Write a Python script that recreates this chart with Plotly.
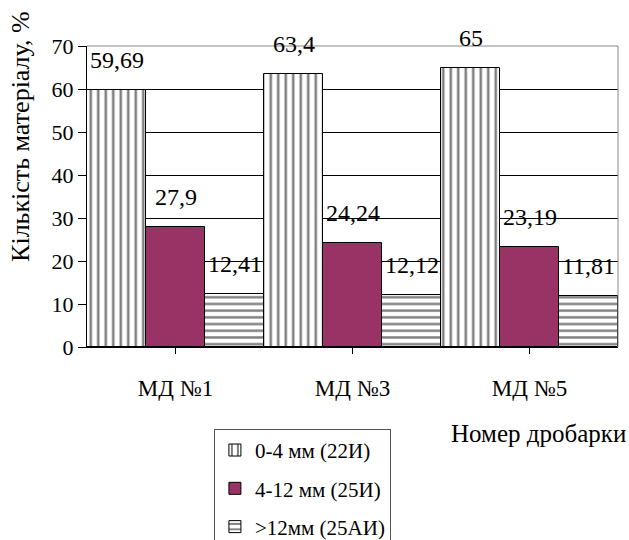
import plotly.graph_objects as go

# Crusher numbers (categories) and fraction shares, %
crushers = ["МД №1", "МД №3", "МД №5"]
series_names = ["0-4 мм (22И)", "4-12 мм (25И)", ">12мм (25АИ)"]
fine = [59.69, 63.4, 65]
medium = [27.9, 24.24, 23.19]
coarse = [12.41, 12.12, 11.81]
value_labels = [["59,69", "63,4", "65"], ["27,9", "24,24", "23,19"], ["12,41", "12,12", "11,81"]]
y_ticks = [0, 10, 20, 30, 40, 50, 60, 70]

FONT = "'Liberation Serif', 'Times New Roman', Times, 'DejaVu Serif', serif"
series = [fine, medium, coarse]
markers = [
    dict(color="white", line=dict(color="black", width=1),
         pattern=dict(shape="|", size=7.5, solidity=0.34, fgcolor="black", bgcolor="white")),
    dict(color="#993366", line=dict(color="black", width=1)),
    dict(color="white", line=dict(color="black", width=1),
         pattern=dict(shape="-", size=6.7, solidity=0.36, fgcolor="black", bgcolor="white")),
]

x_pos = list(range(len(crushers)))
fig = go.Figure()
for k, (name, vals, mk) in enumerate(zip(series_names, series, markers)):
    fig.add_trace(go.Bar(x=x_pos, y=vals, name=name, marker=mk, legendgroup=f"g{k}"))

# value labels above each bar
annotations = []
for j, (vals, labels) in enumerate(zip(series, value_labels)):
    for i, (v, t) in enumerate(zip(vals, labels)):
        annotations.append(dict(
            x=i + (j - 1) / 3, y=v, xref="x", yref="y", text=t, showarrow=False,
            yanchor="bottom", yshift=15, font=dict(family=FONT, size=24, color="black")))

annotations.append(dict(
    x=-0.125, y=0.70, xref="paper", yref="paper", text="Кількість матеріалу, %",
    textangle=-90, showarrow=False, xanchor="center", yanchor="middle",
    font=dict(family=FONT, size=26, color="black")))
annotations.append(dict(
    x=0.85, y=-0.289, xref="paper", yref="paper", text="Номер дробарки",
    showarrow=False, xanchor="center", yanchor="middle",
    font=dict(family=FONT, size=25, color="black")))

fig.update_layout(
    width=629, height=540,
    margin=dict(l=87, r=11, t=46, b=193, autoexpand=False),
    paper_bgcolor="white", plot_bgcolor="white",
    barmode="group", bargap=0, bargroupgap=0,
    font=dict(family=FONT, size=20, color="black"),
    showlegend=True,
    legend=dict(x=0.239, y=-0.272, xanchor="left", yanchor="top",
                bgcolor="white", bordercolor="#555555", borderwidth=1,
                font=dict(family=FONT, size=21, color="black"),
                traceorder="grouped", tracegroupgap=8, itemwidth=30),
    annotations=annotations,
    shapes=[
        dict(type="line", xref="paper", yref="paper", x0=0, x1=1, y0=1, y1=1,
             line=dict(color="#888888", width=1)),
        dict(type="line", xref="paper", yref="paper", x0=1, x1=1, y0=0, y1=1,
             line=dict(color="#888888", width=1)),
    ],
)
fig.update_xaxes(
    tickmode="array", tickvals=x_pos, ticktext=crushers,
    range=[-0.5, 2.5], tickson="boundaries", ticks="outside", ticklen=6,
    tickcolor="black", showline=True, linecolor="black", linewidth=1,
    showgrid=False, ticklabelstandoff=14,
    tickfont=dict(family=FONT, size=23, color="black"))
fig.update_yaxes(
    range=[0, 70], tickvals=y_ticks, ticks="outside", ticklen=8, tickcolor="black",
    showline=True, linecolor="black", linewidth=1,
    showgrid=True, gridcolor="black", gridwidth=1, zeroline=False,
    tickfont=dict(family=FONT, size=22, color="black"))

fig.write_html("out.html")
